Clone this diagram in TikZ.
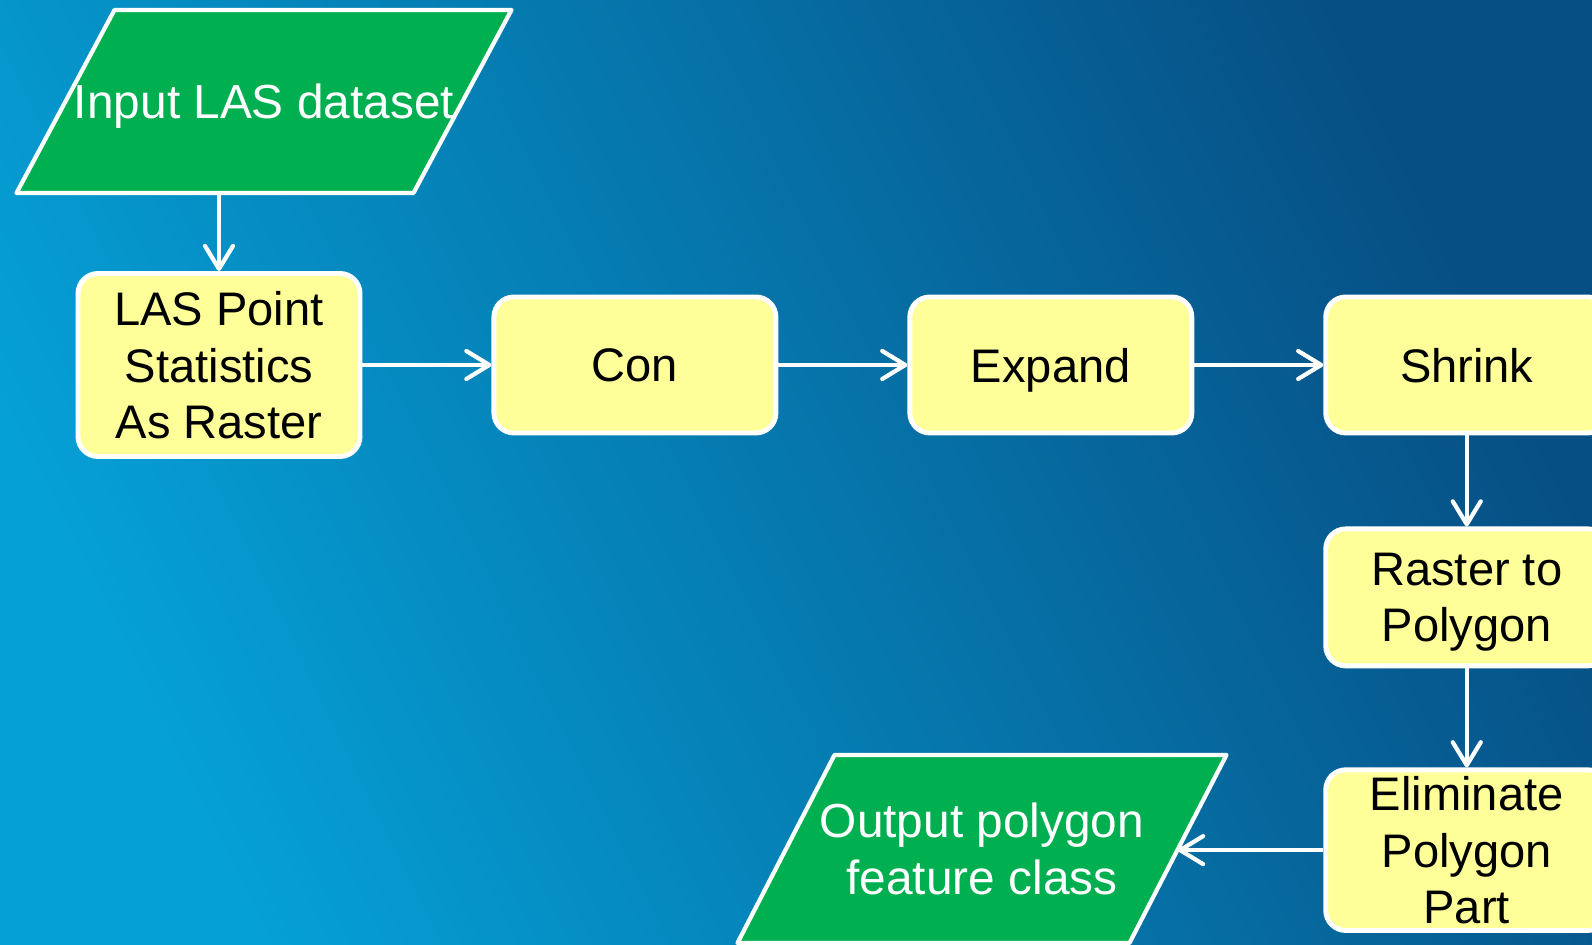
\documentclass[tikz,border=0pt]{standalone}
\usepackage{fontspec}
\setmainfont{Liberation Sans}
\usepackage{tikz}
\usetikzlibrary{arrows.meta,positioning,backgrounds}
\definecolor{wlight}{HTML}{05A0D6}
\definecolor{wdark}{HTML}{064F84}
\definecolor{wyellow}{HTML}{FFFF99}
\definecolor{wgreen}{HTML}{00B050}
\tikzset{
  >={Straight Barb[length=2.3mm, width=2.8mm, round]},
  wstep/.style={rectangle, rounded corners=2mm, draw=white, fill=wyellow, line width=1.4pt,
                minimum width=2.82cm, align=center, inner sep=2pt, text depth=0pt,
                font=\fontsize{13.4}{16}\selectfont},
  wio/.style={rectangle, outer sep=0pt, inner sep=0pt, align=center, text=white,
              text depth=0pt, font=\fontsize{13.6}{16.2}\selectfont},
  wpara/.style={fill=wgreen, draw=white, line width=1.2pt, line join=round},
  wflow/.style={->, white, line width=1.2pt},
}

\begin{document}
\begin{tikzpicture}[x=1cm,y=1cm, node distance=1.29cm]

  \useasboundingbox (0,0) rectangle (15.92,9.45);
  \clip (0,0) rectangle (15.92,9.45);

  % processing steps
  \node[wstep, minimum height=1.83cm] (lasstat) at (2.19,5.80) {LAS Point\\Statistics\\As Raster};
  \node[wstep, minimum height=1.36cm, right=of lasstat] (con) {Con};
  \node[wstep, minimum height=1.36cm, right=of con] (expand) {Expand};
  \node[wstep, minimum height=1.36cm, right=of expand] (shrink) {Shrink};
  \node[wstep, minimum height=1.37cm, below=0.91cm of shrink] (rastpoly) {Raster to\\Polygon};
  \node[wstep, minimum height=1.60cm, below=0.99cm of rastpoly] (elimpart) {Eliminate\\Polygon\\Part};

  % input and output data
  \node[wio, minimum width=3.97cm, minimum height=1.83cm] (lasin) at (2.64,8.435) {Input LAS dataset};
  \node[wio, minimum width=3.92cm, minimum height=1.88cm] (polyout) at (9.82,0.96) {Output polygon\\feature class};

  \begin{scope}[on background layer]
    \shade[top color=wdark, bottom color=wlight, shading angle=-64] (0,0) rectangle (15.92,9.45);
    \foreach \io/\sl in {lasin/0.49, polyout/0.485}
      \draw[wpara] ([xshift=\sl cm]\io.north west) -- ([xshift=\sl cm]\io.north east)
        -- ([xshift=-\sl cm]\io.south east) -- ([xshift=-\sl cm]\io.south west) -- cycle;
  \end{scope}

  \draw[wflow] (lasstat.north |- lasin.south) -- (lasstat.north);
  \draw[wflow] (lasstat.east) -- (con.west);
  \draw[wflow] (con.east) -- (expand.west);
  \draw[wflow] (expand.east) -- (shrink.west);
  \draw[wflow] (shrink.south) -- (rastpoly.north);
  \draw[wflow] (rastpoly.south) -- (elimpart.north);
  \draw[wflow] (elimpart.west) -- (elimpart.west -| polyout.east);

\end{tikzpicture}
\end{document}
